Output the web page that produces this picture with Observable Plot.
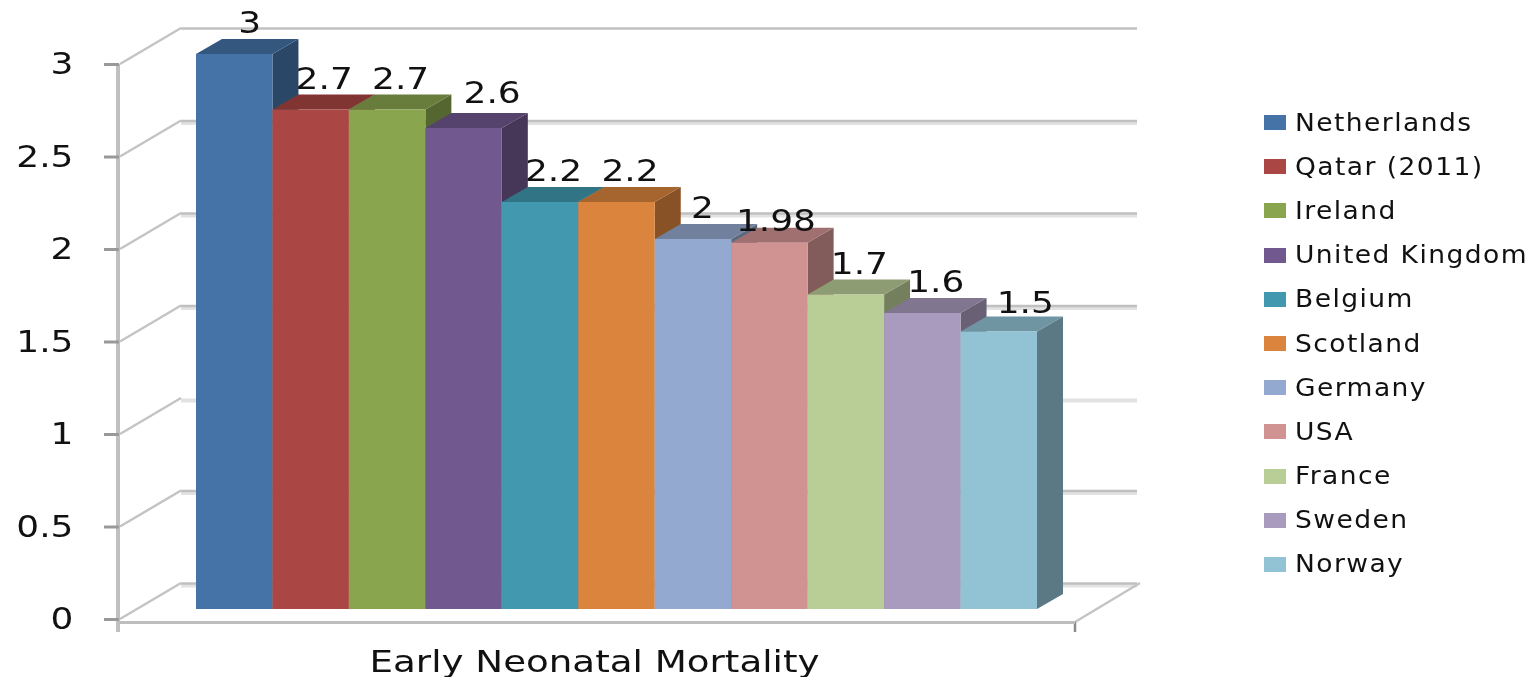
<!DOCTYPE html>
<html>
<head>
<meta charset="utf-8">
<script src="https://cdn.jsdelivr.net/npm/d3@7"></script>
<script src="https://cdn.jsdelivr.net/npm/@observablehq/plot@0.6"></script>
<style>
  html, body { margin: 0; padding: 0; background: #fff; }
  #wrap { position: relative; width: 1536px; height: 677px; overflow: hidden; filter: blur(0.6px); }
  #wrap svg { position: absolute; left: 0; top: 0; font-family: "DejaVu Sans", sans-serif; }
  #legend { position: absolute; left: 1264px; top: 100.5px; font-family: "DejaVu Sans", sans-serif; color: #111; }
  #legend .row { display: flex; align-items: center; height: 44.2px; white-space: nowrap; }
  #legend .sw { width: 22px; height: 15px; margin-right: 9px; flex: none; }
  #legend .lb { font-size: 24px; letter-spacing: 1.3px; display: inline-block; transform: scaleX(1.105); transform-origin: left center; }
</style>
</head>
<body>
<div id="wrap"><div id="legend"></div></div>
<script>
const countries = ["Netherlands", "Qatar (2011)", "Ireland", "United Kingdom", "Belgium", "Scotland", "Germany", "USA", "France", "Sweden", "Norway"];
const mortality = [3, 2.7, 2.7, 2.6, 2.2, 2.2, 2, 1.98, 1.7, 1.6, 1.5];
const palette = ["#4572A7", "#AA4643", "#89A54E", "#71588F", "#4198AF", "#DB843D", "#93A9CF", "#D19392", "#B9CD96", "#A99BBD", "#92C3D5"];
const yTicks = [0, 0.5, 1, 1.5, 2, 2.5, 3];
const chartTitle = "Early Neonatal Mortality";

const rows = countries.map((c, i) => ({country: c, value: mortality[i], color: palette[i]}));

// 3D projection offsets of the picture
const barLift = -10, depthX = 26, depthY = -15, wallX = 62, wallY = -36;
const shade = (c, k) => { const r = d3.rgb(c); return d3.rgb(r.r * k, r.g * k, r.b * k).formatHex(); };
const SVGNS = "http://www.w3.org/2000/svg";

function walls(index, scales, values, dim) {
  const g = document.createElementNS(SVGNS, "g");
  const line = (x1, y1, x2, y2, stroke, w) => {
    const l = document.createElementNS(SVGNS, "line");
    for (const [k, v] of Object.entries({x1, y1, x2, y2, stroke, "stroke-width": w})) l.setAttribute(k, v);
    g.appendChild(l);
  };
  const left = dim.marginLeft, right = dim.width - dim.marginRight, y0 = scales.y(0), y3 = scales.y(3);
  for (const t of yTicks) line(left + 1, scales.y(t), left + wallX, scales.y(t) + wallY, "#c4c4c4", 2.5);
  line(right, y0 + 3, right + wallX + 3, y0 + wallY, "#c4c4c4", 2.5);
  line(left - 1, y3, left - 1, y0 + 13, "#c0c0c0", 4);
  line(right, y0 + 3, right, y0 + 13, "#8c8c8c", 2.5);
  return g;
}

function solids(index, scales) {
  const g = document.createElementNS(SVGNS, "g");
  const bw = scales.x.bandwidth();
  const poly = (pts, fill) => {
    const p = document.createElementNS(SVGNS, "polygon");
    p.setAttribute("points", pts.map(d => d.join(",")).join(" "));
    p.setAttribute("fill", fill);
    g.appendChild(p);
  };
  for (const r of rows) {
    const x0 = scales.x(r.country), x1 = x0 + bw;
    const yt = scales.y(r.value) + barLift, yb = scales.y(0) + barLift;
    poly([[x1, yt], [x1 + depthX, yt + depthY], [x1 + depthX, yb + depthY], [x1, yb]], shade(r.color, 0.62));
    poly([[x0, yt], [x0 + depthX, yt + depthY], [x1 + depthX, yt + depthY], [x1, yt]], shade(r.color, 0.76));
  }
  return g;
}

const labelNudge = {"United Kingdom": [15, -4], "USA": [-7, 9], "Norway": [13, 2], "Germany": [-4, 0], "Netherlands": [2, 0]};
const labelMarks = rows.map(r => {
  const [nx, ny] = labelNudge[r.country] || [0, 0];
  return Plot.text([r], {
    x: "country", y: "value", text: d => String(d.value),
    dx: 13 + nx, dy: barLift + depthY - 16 + ny,
    fontSize: 31, fill: "#111"
  });
});

const chart = Plot.plot({
  width: 1536, height: 677,
  marginLeft: 119, marginRight: 461, marginTop: 0, marginBottom: 55,
  style: {background: "transparent", overflow: "visible"},
  x: {type: "band", domain: countries, range: [196, 1037], padding: 0, round: false, axis: null},
  y: {domain: [0, 3], range: [619, 64], axis: null},
  marks: [
    Plot.ruleY(yTicks.filter(t => t !== 3), {y: d => d, dx: wallX, dy: wallY + 2, stroke: "#e2e2e2", strokeWidth: 4}),
    Plot.ruleY(yTicks.filter(t => t !== 1), {y: d => d, dx: wallX, dy: wallY, stroke: "#c0c0c0", strokeWidth: 2.5}),
    walls,
    Plot.ruleY([0], {y: d => d, dy: 3, stroke: "#bebebe", strokeWidth: 3}),
    Plot.axisY({
      anchor: "left", ticks: yTicks, tickFormat: d => String(d),
      tickSize: 15, tickPadding: 31, stroke: "#999", strokeWidth: 3,
      fontSize: 31, fill: "#111", label: null, marginLeft: 119
    }),
    solids,
    Plot.barY(rows, {x: "country", y1: 0, y2: "value", fill: "color", dy: barLift, inset: 0}),
    ...labelMarks,
    Plot.text([chartTitle], {frameAnchor: "bottom", dx: -3, dy: 49, fontSize: 31, fill: "#111"})
  ]
});
document.getElementById("wrap").prepend(chart);

// The reference's type is stretched sideways: widen every label about its own anchor.
chart.querySelectorAll("text").forEach(t => {
  const k = t.textContent === chartTitle ? 1.2 : 1.16;
  t.setAttribute("lengthAdjust", "spacingAndGlyphs");
  t.setAttribute("textLength", t.getComputedTextLength() * k);
});

const legend = d3.select("#legend");
rows.forEach(r => {
  const row = legend.append("div").attr("class", "row");
  row.append("div").attr("class", "sw").style("background", r.color);
  row.append("span").attr("class", "lb").text(r.country);
});
</script>
</body>
</html>
